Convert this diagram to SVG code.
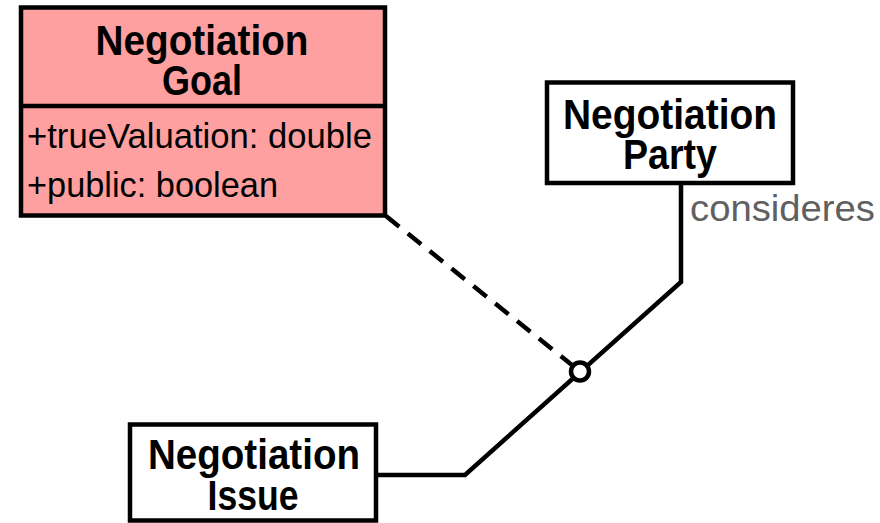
<svg xmlns="http://www.w3.org/2000/svg" width="880" height="523" viewBox="0 0 880 523">
<style>
.box{fill:#ffffff;stroke:#000;stroke-width:4.5}
.goal{fill:#ffa0a0;stroke:#000;stroke-width:4.5}
.title{font-family:"Liberation Sans",Arial,sans-serif;font-weight:bold;font-size:43px;fill:#000;text-anchor:middle}
.attr{font-family:"Liberation Sans",Arial,sans-serif;font-size:35px;fill:#000}
.lbl{font-family:"Liberation Sans",Arial,sans-serif;font-size:37px;fill:#606060}
.conn{fill:none;stroke:#000;stroke-width:4.5}
.dash{fill:none;stroke:#000;stroke-width:4.5;stroke-dasharray:17 11}
</style>
<rect width="880" height="523" fill="#ffffff"/>
<g id="connectors">
<line class="dash" x1="386" y1="216" x2="580" y2="371.5"/>
<polyline class="conn" points="376,475 465,475 681,282 681,183"/>
<circle cx="580" cy="371.5" r="9" fill="#ffffff" stroke="#000" stroke-width="4.5"/>
<text class="lbl" x="690" y="221" textLength="185" lengthAdjust="spacingAndGlyphs">consideres</text>
</g>
<g id="negotiation-goal">
<rect class="goal" x="21" y="7.5" width="364" height="208"/>
<line x1="21" y1="106" x2="385" y2="106" stroke="#000" stroke-width="4.5"/>
<text class="title" x="202" y="54.5" textLength="213" lengthAdjust="spacingAndGlyphs">Negotiation</text>
<text class="title" x="202" y="95" textLength="80" lengthAdjust="spacingAndGlyphs">Goal</text>
<text class="attr" x="27" y="148" textLength="345" lengthAdjust="spacingAndGlyphs">+trueValuation: double</text>
<text class="attr" x="27" y="197" textLength="251" lengthAdjust="spacingAndGlyphs">+public: boolean</text>
</g>
<g id="negotiation-party">
<rect class="box" x="547" y="82.5" width="246" height="100.5"/>
<text class="title" x="670" y="128.5" textLength="214" lengthAdjust="spacingAndGlyphs">Negotiation</text>
<text class="title" x="670" y="169" textLength="94" lengthAdjust="spacingAndGlyphs">Party</text>
</g>
<g id="negotiation-issue">
<rect class="box" x="130" y="424.5" width="246" height="96"/>
<text class="title" x="254" y="469" textLength="212" lengthAdjust="spacingAndGlyphs">Negotiation</text>
<text class="title" x="253" y="510" textLength="91" lengthAdjust="spacingAndGlyphs">Issue</text>
</g>
</svg>
